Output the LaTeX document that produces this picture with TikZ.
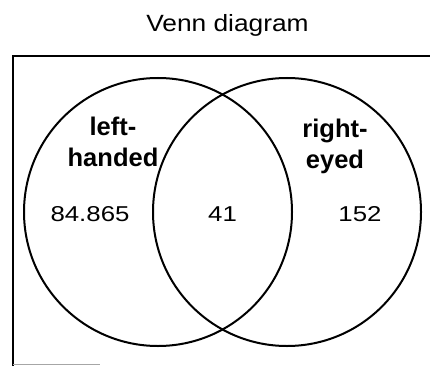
\documentclass[tikz,border=0pt]{standalone}
\usepackage{fontspec}
\setmainfont{Liberation Sans}
\begin{document}
\begin{tikzpicture}[x=1pt,y=-1pt,
  venn/.style={circle, draw, line width=2pt, minimum size=268pt, inner sep=0pt},
  titletext/.style={anchor=base, inner sep=0pt, font=\fontsize{23.5}{28}\selectfont},
  setlabel/.style={anchor=base, inner sep=0pt, align=center, font=\fontsize{25.5}{31}\selectfont\bfseries},
  count/.style={anchor=base, inner sep=0pt, font=\fontsize{21.5}{25}\selectfont},
  frame/.style={line width=1.5pt}]
\useasboundingbox (0,0) rectangle (430,366);
% frame (only top and left visible)
\coordinate (fbl) at (13,366);
\coordinate (ftl) at (13,56);
\coordinate (ftr) at (430,56);
\coordinate (fbr) at (100,364.5);
\coordinate (fbl2) at (13,364.5);
\draw[frame] (fbl) -- (ftl) -- (ftr);
\draw[black!35, line width=1pt] (fbl2) -- (fbr);
% title
\node[titletext] (title) at (227.5,32) {\scalebox{1.12}[1]{Venn diagram}};
% circles
\node[venn] (L) at (158,212) {};
\node[venn] (R) at (287,212) {};
% labels
\node[setlabel] (ltxt) at (113,166) {left-\\handed};
\node[setlabel] (rtxt) at (335,168) {right-\\eyed};
% counts
\node[count] (nl) at (90,221) {\scalebox{1.2}[1]{84.865}};
\node[count] (nm) at (222.5,221) {\scalebox{1.2}[1]{41}};
\node[count] (nr) at (360,221) {\scalebox{1.2}[1]{152}};
\end{tikzpicture}
\end{document}
